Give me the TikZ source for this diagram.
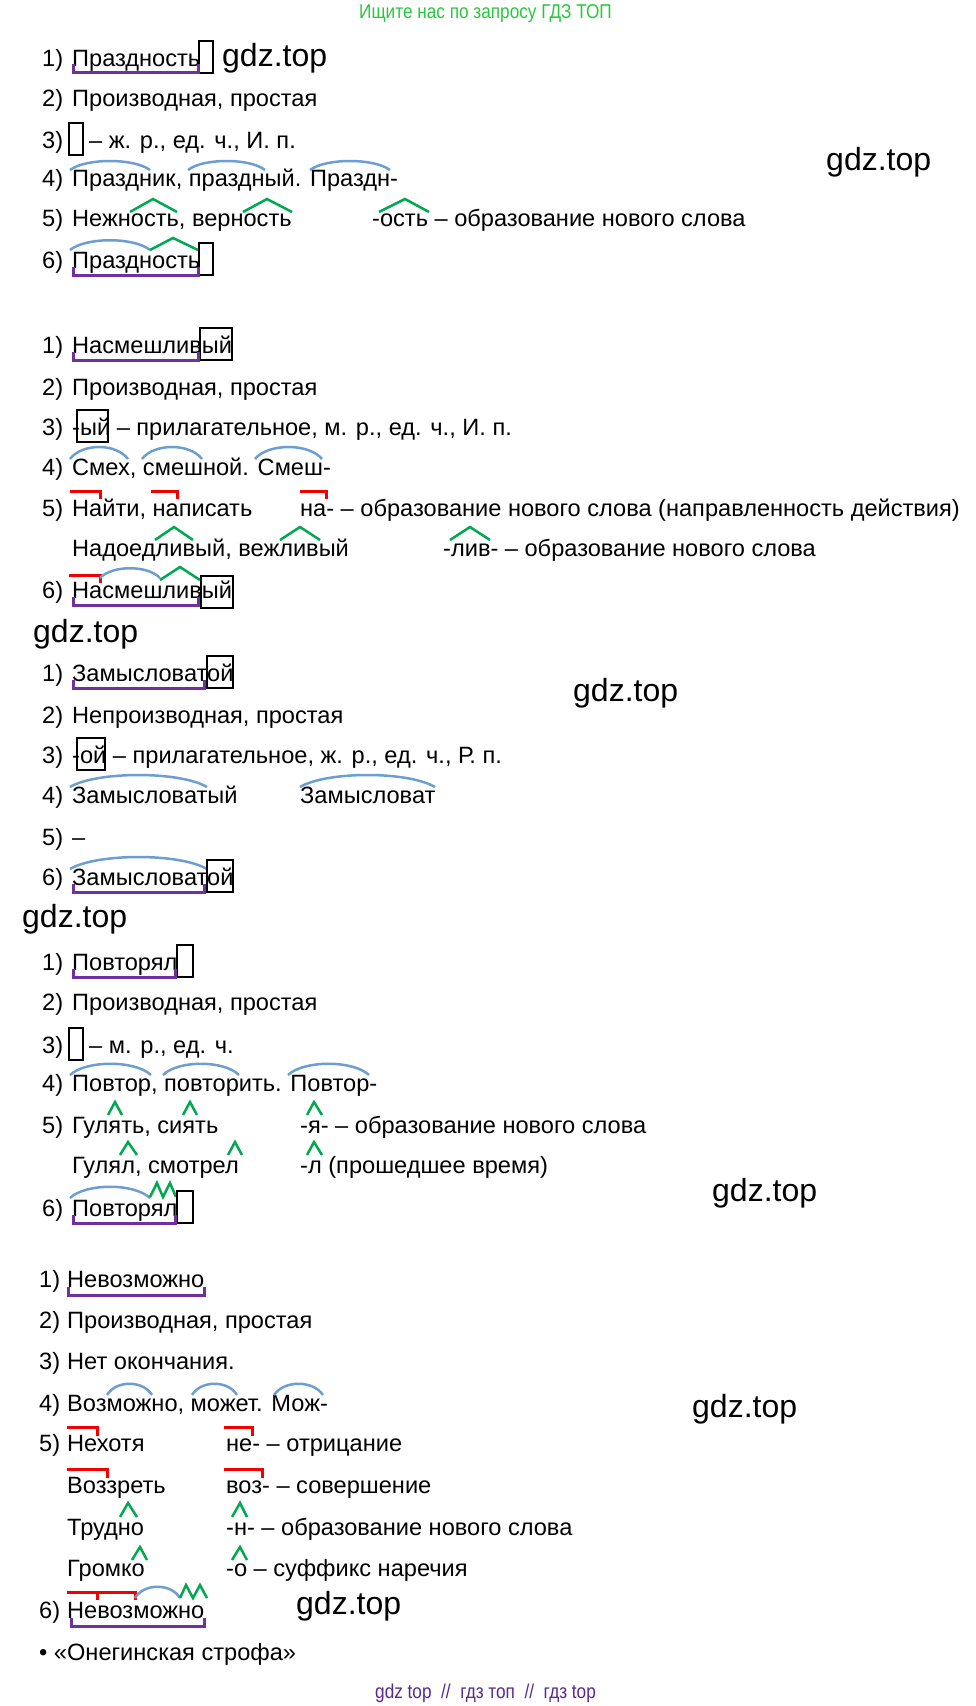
\documentclass[tikz,border=0pt]{standalone}
\usepackage{fontspec}
\setmainfont{Liberation Sans}
\newfontfamily\narrowfont[FakeStretch=0.86]{Liberation Sans}
\definecolor{stempurple}{RGB}{112,48,160}
\definecolor{rootblue}{RGB}{108,158,210}
\definecolor{prefred}{RGB}{240,0,0}
\definecolor{sufgreen}{RGB}{0,168,80}
\definecolor{adgreen}{RGB}{40,200,60}
\definecolor{footpurple}{RGB}{90,40,140}
\begin{document}
\begin{tikzpicture}
	[x=1pt,y=-1pt,
	 word/.style={anchor=base west,inner sep=0pt,font=\fontsize{23.6}{28}\selectfont},
	 numlbl/.style={word},
	 wmark/.style={anchor=base west,inner sep=0pt,font=\fontsize{32}{36}\selectfont},
	 endbox/.style={draw=black,line width=2pt},
	 stembar/.style={draw=stempurple,line width=3pt},
	 rootarc/.style={draw=rootblue,line width=2.5pt},
	 prefline/.style={draw=prefred,line width=3pt},
	 sufcap/.style={draw=sufgreen,line width=2.5pt}]
    \useasboundingbox[fill=white] (0,0) rectangle (976,1706);
    \node[anchor=base west,inner sep=0pt,font=\narrowfont\fontsize{20}{24}\selectfont,text=adgreen] (top) at (359,18) {Ищите нас по запросу ГДЗ ТОП};
    % Праздность
    \node[numlbl] (a1n) at (42,66) {1)};
    \node[word] (a1w) at (72,66) {Праздность};
    \draw[endbox] (199,41) rectangle (213,73);
    \draw[stembar] (73,64) -- (73,72) -- (198,72) -- (198,64);
    \node[wmark] (g1) at (222,66) {gdz.top};
    \node[numlbl] (a2n) at (42,106) {2)};
    \node[word] (a2w) at (72,106) {Производная, простая};
    \node[numlbl] (a3n) at (42,148) {3)};
    \draw[endbox] (69,123) rectangle (83,155);
    \node[word] (a3w) at (89,148) {– ж. р., ед. ч., И. п.};
    \node[numlbl] (a4n) at (42,186) {4)};
    \node[word] (a4w) at (72,186) {Праздник, праздный. Праздн-};
    \draw[rootarc] (70,170) .. controls (86,158) and (134,158) .. (150,170);
    \draw[rootarc] (188,170) .. controls (203,158) and (250,158) .. (265,170);
    \draw[rootarc] (310,170) .. controls (326,158) and (374,158) .. (390,170);
    \node[wmark] (g2) at (826,170) {gdz.top};
    \node[numlbl] (a5n) at (42,226) {5)};
    \node[word] (a5w) at (72,226) {Нежность, верность};
    \node[word] (a5s) at (372,226) {-ость – образование нового слова};
    \draw[sufcap] (130,212) -- (153,199) -- (177,212);
    \draw[sufcap] (243,212) -- (267,199) -- (292,212);
    \draw[sufcap] (379,212) -- (405,199) -- (429,212);
    \node[numlbl] (a6n) at (42,268) {6)};
    \node[word] (a6w) at (72,268) {Праздность};
    \draw[endbox] (199,243) rectangle (213,275);
    \draw[rootarc] (70,250) .. controls (86,237) and (134,237) .. (150,250);
    \draw[sufcap] (150,250) -- (173,238) -- (198,250);
    \draw[stembar] (73,267) -- (73,275) -- (198,275) -- (198,267);
    % Насмешливый
    \node[numlbl] (b1n) at (42,353) {1)};
    \node[word] (b1w) at (72,353) {Насмешливый};
    \draw[endbox] (200,328) rectangle (232,360);
    \draw[stembar] (73,352) -- (73,360) -- (198,360) -- (198,352);
    \node[numlbl] (b2n) at (42,395) {2)};
    \node[word] (b2w) at (72,395) {Производная, простая};
    \node[numlbl] (b3n) at (42,435) {3)};
    \node[word] (b3w) at (72,435) {-ый – прилагательное, м. р., ед. ч., И. п.};
    \draw[endbox] (77,410) rectangle (108,442);
    \node[numlbl] (b4n) at (42,475) {4)};
    \node[word] (b4w) at (72,475) {Смех, смешной. Смеш-};
    \draw[rootarc] (70,459) .. controls (82,443) and (116,443) .. (128,459);
    \draw[rootarc] (142,459) .. controls (154,443) and (190,443) .. (202,459);
    \draw[rootarc] (255,459) .. controls (268,443) and (309,443) .. (322,459);
    \node[numlbl] (b5n) at (42,516) {5)};
    \node[word] (b5w) at (72,516) {Найти, написать};
    \node[word] (b5s) at (300,516) {на- – образование нового слова (направленность действия)};
    \draw[prefline] (70,491) -- (100,491) -- (100,499);
    \draw[prefline] (151,491) -- (177,491) -- (177,499);
    \draw[prefline] (300,491) -- (326,491) -- (326,499);
    \node[word] (b5v) at (72,556) {Надоедливый, вежливый};
    \node[word] (b5t) at (443,556) {-лив- – образование нового слова};
    \draw[sufcap] (155,540) -- (174,527) -- (193,540);
    \draw[sufcap] (280,540) -- (300,527) -- (320,540);
    \draw[sufcap] (450,540) -- (470,527) -- (490,540);
    \node[numlbl] (b6n) at (42,598) {6)};
    \node[word] (b6w) at (72,598) {Насмешливый};
    \draw[prefline] (69,575) -- (100,575) -- (100,583);
    \draw[rootarc] (100,578) .. controls (112,565) and (148,565) .. (160,578);
    \draw[sufcap] (160,580) -- (180,567) -- (200,580);
    \draw[endbox] (201,576) rectangle (233,608);
    \draw[stembar] (73,597) -- (73,605) -- (198,605) -- (198,597);
    % Замысловатой
    \node[wmark] (g3) at (33,642) {gdz.top};
    \node[numlbl] (c1n) at (42,681) {1)};
    \node[word] (c1w) at (72,681) {Замысловатой};
    \draw[endbox] (207,656) rectangle (233,688);
    \draw[stembar] (73,680) -- (73,688) -- (204,688) -- (204,680);
    \node[wmark] (g4) at (573,701) {gdz.top};
    \node[numlbl] (c2n) at (42,723) {2)};
    \node[word] (c2w) at (72,723) {Непроизводная, простая};
    \node[numlbl] (c3n) at (42,763) {3)};
    \node[word] (c3w) at (72,763) {-ой – прилагательное, ж. р., ед. ч., Р. п.};
    \draw[endbox] (77,738) rectangle (105,770);
    \node[numlbl] (c4n) at (42,803) {4)};
    \node[word] (c4w) at (72,803) {Замысловатый};
    \node[word] (c4v) at (300,803) {Замысловат};
    \draw[rootarc] (70,787) .. controls (97,771) and (180,771) .. (207,787);
    \draw[rootarc] (300,787) .. controls (327,771) and (408,771) .. (435,787);
    \node[numlbl] (c5n) at (42,845) {5)};
    \node[word] (c5w) at (72,845) {–};
    \node[numlbl] (c6n) at (42,885) {6)};
    \node[word] (c6w) at (72,885) {Замысловатой};
    \draw[rootarc] (70,869) .. controls (97,853) and (180,853) .. (207,869);
    \draw[endbox] (207,860) rectangle (233,892);
    \draw[stembar] (73,884) -- (73,892) -- (204,892) -- (204,884);
    % Повторял
    \node[wmark] (g5) at (22,927) {gdz.top};
    \node[numlbl] (d1n) at (42,970) {1)};
    \node[word] (d1w) at (72,970) {Повторял};
    \draw[endbox] (177,945) rectangle (193,977);
    \draw[stembar] (73,969) -- (73,977) -- (175,977) -- (175,969);
    \node[numlbl] (d2n) at (42,1010) {2)};
    \node[word] (d2w) at (72,1010) {Производная, простая};
    \node[numlbl] (d3n) at (42,1053) {3)};
    \draw[endbox] (69,1028) rectangle (83,1060);
    \node[word] (d3w) at (89,1053) {– м. р., ед. ч.};
    \node[numlbl] (d4n) at (42,1091) {4)};
    \node[word] (d4w) at (72,1091) {Повтор, повторить. Повтор-};
    \draw[rootarc] (70,1075) .. controls (86,1060) and (135,1060) .. (151,1075);
    \draw[rootarc] (163,1075) .. controls (178,1060) and (224,1060) .. (239,1075);
    \draw[rootarc] (288,1075) .. controls (304,1060) and (353,1060) .. (369,1075);
    \node[numlbl] (d5n) at (42,1133) {5)};
    \node[word] (d5w) at (72,1133) {Гулять, сиять};
    \node[word] (d5s) at (300,1133) {-я- – образование нового слова};
    \draw[sufcap] (108,1115) -- (115,1102) -- (122,1115);
    \draw[sufcap] (183,1115) -- (190,1102) -- (197,1115);
    \draw[sufcap] (307,1115) -- (314,1102) -- (322,1115);
    \node[word] (d5v) at (72,1173) {Гулял, смотрел};
    \node[word] (d5t) at (300,1173) {-л (прошедшее время)};
    \draw[sufcap] (120,1155) -- (128,1142) -- (137,1155);
    \draw[sufcap] (228,1155) -- (235,1142) -- (242,1155);
    \draw[sufcap] (307,1155) -- (314,1142) -- (322,1155);
    \node[wmark] (g6) at (712,1201) {gdz.top};
    \node[numlbl] (d6n) at (42,1216) {6)};
    \node[word] (d6w) at (72,1216) {Повторял};
    \draw[rootarc] (70,1198) .. controls (86,1183) and (134,1183) .. (150,1198);
    \draw[sufcap] (150,1197) -- (157,1183) -- (163,1197) -- (170,1183) -- (176,1197);
    \draw[endbox] (177,1191) rectangle (193,1223);
    \draw[stembar] (73,1215) -- (73,1223) -- (175,1223) -- (175,1215);
    % Невозможно
    \node[numlbl] (e1n) at (39,1287) {1)};
    \node[word] (e1w) at (67,1287) {Невозможно};
    \draw[stembar] (68,1287) -- (68,1295) -- (204,1295) -- (204,1287);
    \node[numlbl] (e2n) at (39,1328) {2)};
    \node[word] (e2w) at (67,1328) {Производная, простая};
    \node[numlbl] (e3n) at (39,1369) {3)};
    \node[word] (e3w) at (67,1369) {Нет окончания.};
    \node[numlbl] (e4n) at (39,1411) {4)};
    \node[word] (e4w) at (67,1411) {Возможно, может. Мож-};
    \draw[rootarc] (107,1395) .. controls (116,1380) and (143,1380) .. (152,1395);
    \draw[rootarc] (192,1395) .. controls (201,1380) and (228,1380) .. (237,1395);
    \draw[rootarc] (274,1395) .. controls (284,1380) and (313,1380) .. (323,1395);
    \node[wmark] (g7) at (692,1417) {gdz.top};
    \node[numlbl] (e5n) at (39,1451) {5)};
    \node[word] (e5w) at (67,1451) {Нехотя};
    \node[word] (e5s) at (226,1451) {не- – отрицание};
    \draw[prefline] (67,1427) -- (97,1427) -- (97,1436);
    \draw[prefline] (224,1427) -- (252,1427) -- (252,1436);
    \node[word] (e5v) at (67,1493) {Воззреть};
    \node[word] (e5t) at (226,1493) {воз- – совершение};
    \draw[prefline] (67,1469) -- (107,1469) -- (107,1478);
    \draw[prefline] (224,1469) -- (262,1469) -- (262,1478);
    \node[word] (e5x) at (67,1535) {Трудно};
    \node[word] (e5u) at (226,1535) {-н- – образование нового слова};
    \draw[sufcap] (120,1517) -- (128,1503) -- (137,1517);
    \draw[sufcap] (232,1517) -- (240,1503) -- (247,1517);
    \node[word] (e5y) at (67,1576) {Громко};
    \node[word] (e5r) at (226,1576) {-о – суффикс наречия};
    \draw[sufcap] (132,1560) -- (140,1547) -- (147,1560);
    \draw[sufcap] (232,1560) -- (240,1547) -- (247,1560);
    \node[numlbl] (e6n) at (39,1618) {6)};
    \node[word] (e6w) at (67,1618) {Невозможно};
    \draw[prefline] (67,1592) -- (135,1592) -- (135,1600);
    \draw[prefline] (97,1592) -- (97,1600);
    \draw[rootarc] (135,1598) .. controls (144,1583) and (171,1583) .. (180,1598);
    \draw[sufcap] (180,1598) -- (186,1585) -- (193,1598) -- (200,1585) -- (207,1598);
    \draw[stembar] (71,1618) -- (71,1626) -- (204,1626) -- (204,1618);
    \node[wmark] (g8) at (296,1614) {gdz.top};
    \node[word] (bul) at (39,1660) {• «Онегинская строфа»};
    \node[anchor=base west,inner sep=0pt,font=\narrowfont\fontsize{20}{24}\selectfont,text=footpurple] (foot) at (375,1698) {gdz top~~//~~гдз топ~~//~~гдз top};
\end{tikzpicture}
\end{document}
